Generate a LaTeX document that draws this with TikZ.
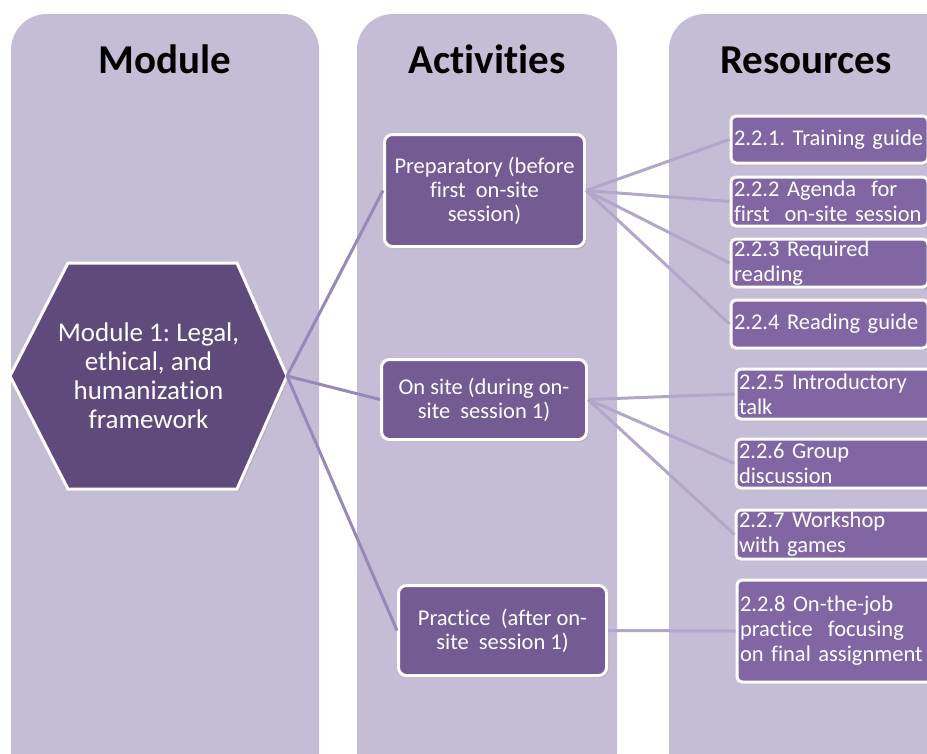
\documentclass[tikz,border=0pt]{standalone}
\usepackage{fontspec}
\setmainfont{Carlito}[Ligatures=NoCommon]
\usetikzlibrary{shadows}

\definecolor{panelbg}{RGB}{197,189,214}
\definecolor{hexfill}{RGB}{96,74,123}
\definecolor{actfill}{RGB}{116,91,148}
\definecolor{resfill}{RGB}{130,102,164}
\definecolor{linkdark}{RGB}{152,136,184}
\definecolor{linklight}{RGB}{178,166,203}

\begin{document}
\frenchspacing
\begin{tikzpicture}[x=1pt,y=-1pt,
    panel/.style={fill=panelbg,rounded corners=36pt},
    head/.style={font=\bfseries\fontsize{41}{45}\selectfont,anchor=base},
    boxshadow/.style={drop shadow={opacity=0.3,shadow xshift=2pt,shadow yshift=-2pt}},
    act/.style={draw=white,line width=3pt,fill=actfill,rounded corners=8pt,text=white,
      align=center,font=\fontsize{22.5}{24}\selectfont,boxshadow},
    res/.style={draw=white,line width=3pt,fill=resfill,rounded corners=5pt,text=white,
      align=left,anchor=north west,inner xsep=3pt,inner ysep=0pt,
      font=\fontsize{22.5}{25}\selectfont,boxshadow},
    linkhex/.style={linkdark,line width=3pt},
    linkres/.style={linklight,line width=3pt}]
  \useasboundingbox (0,0) rectangle (927,753);
  \clip (0,0) rectangle (927,753);
  \fill[white] (0,0) rectangle (927,753);

  \fill[panel] (11,14) rectangle (319,800);
  \fill[panel] (357,14) rectangle (617,800);
  \fill[panel] (669,14) rectangle (980,800);

  \node[head] (hmod) at (165,73) {Module};
  \node[head] (hact) at (487,73) {Activities};
  \node[head] (hres) at (806,73) {Resources};

  \filldraw[fill=hexfill,draw=white,line width=3pt,boxshadow]
    (10,376) -- (68,263) -- (237,263) -- (287,376) -- (237,489) -- (68,489) -- cycle;
  \node[text=white,align=center,font=\fontsize{27}{29}\selectfont] (mod) at (148.5,376)
    {Module 1: Legal,\\ethical, and\\humanization\\framework};
  \coordinate (modR) at (287,376);

  \node[act,minimum width=200pt,minimum height=112pt] (prep) at (484.5,190.5)
    {Preparatory (before\\first\ \ on-site\\session)};
  \node[act,minimum width=205pt,minimum height=80pt] (onsite) at (484,399.5)
    {On site (during on-\\site\ \ session 1)};
  \node[act,minimum width=208pt,minimum height=90pt] (pract) at (502.5,630.5)
    {Practice\ \ (after on-\\site\ \ session 1)};

  \node[res,text width=191pt,minimum height=47pt] (r1) at (729.5,114.5) {2.2.1. Training guide};
  \node[res,text width=191pt,minimum height=49pt] (r2) at (729.5,175.5) {2.2.2 Agenda\ \ for\\first\ \ on-site session};
  \node[res,text width=191pt,minimum height=48pt] (r3) at (729.5,237.5) {2.2.3 Required\\reading};
  \node[res,text width=191pt,minimum height=48pt] (r4) at (729.5,298.5) {2.2.4 Reading guide};
  \node[res,text width=194pt,minimum height=50pt] (r5) at (734.5,367.5) {2.2.5 Introductory\\talk};
  \node[res,text width=194pt,minimum height=49pt] (r6) at (734.5,437.5) {2.2.6 Group\\discussion};
  \node[res,text width=194pt,minimum height=49pt] (r7) at (734.5,508.5) {2.2.7 Workshop\\with games};
  \node[res,text width=194pt,minimum height=102pt] (r8) at (735.5,578.5) {2.2.8 On-the-job\\practice\ \ focusing\\on final assignment};

  \draw[linkhex] (modR) -- (prep.west);
  \draw[linkhex] (modR) -- (onsite.west);
  \draw[linkhex] (modR) -- (pract.west);

  \draw[linkres] (prep.east) -- (r1.west);
  \draw[linkres] (prep.east) -- (r2.west);
  \draw[linkres] (prep.east) -- (r3.west);
  \draw[linkres] (prep.east) -- (r4.west);
  \draw[linkres] (onsite.east) -- (r5.west);
  \draw[linkres] (onsite.east) -- (r6.west);
  \draw[linkres] (onsite.east) -- (r7.west);
  \draw[linkres] (pract.east) -- (r8.west);
\end{tikzpicture}
\end{document}
